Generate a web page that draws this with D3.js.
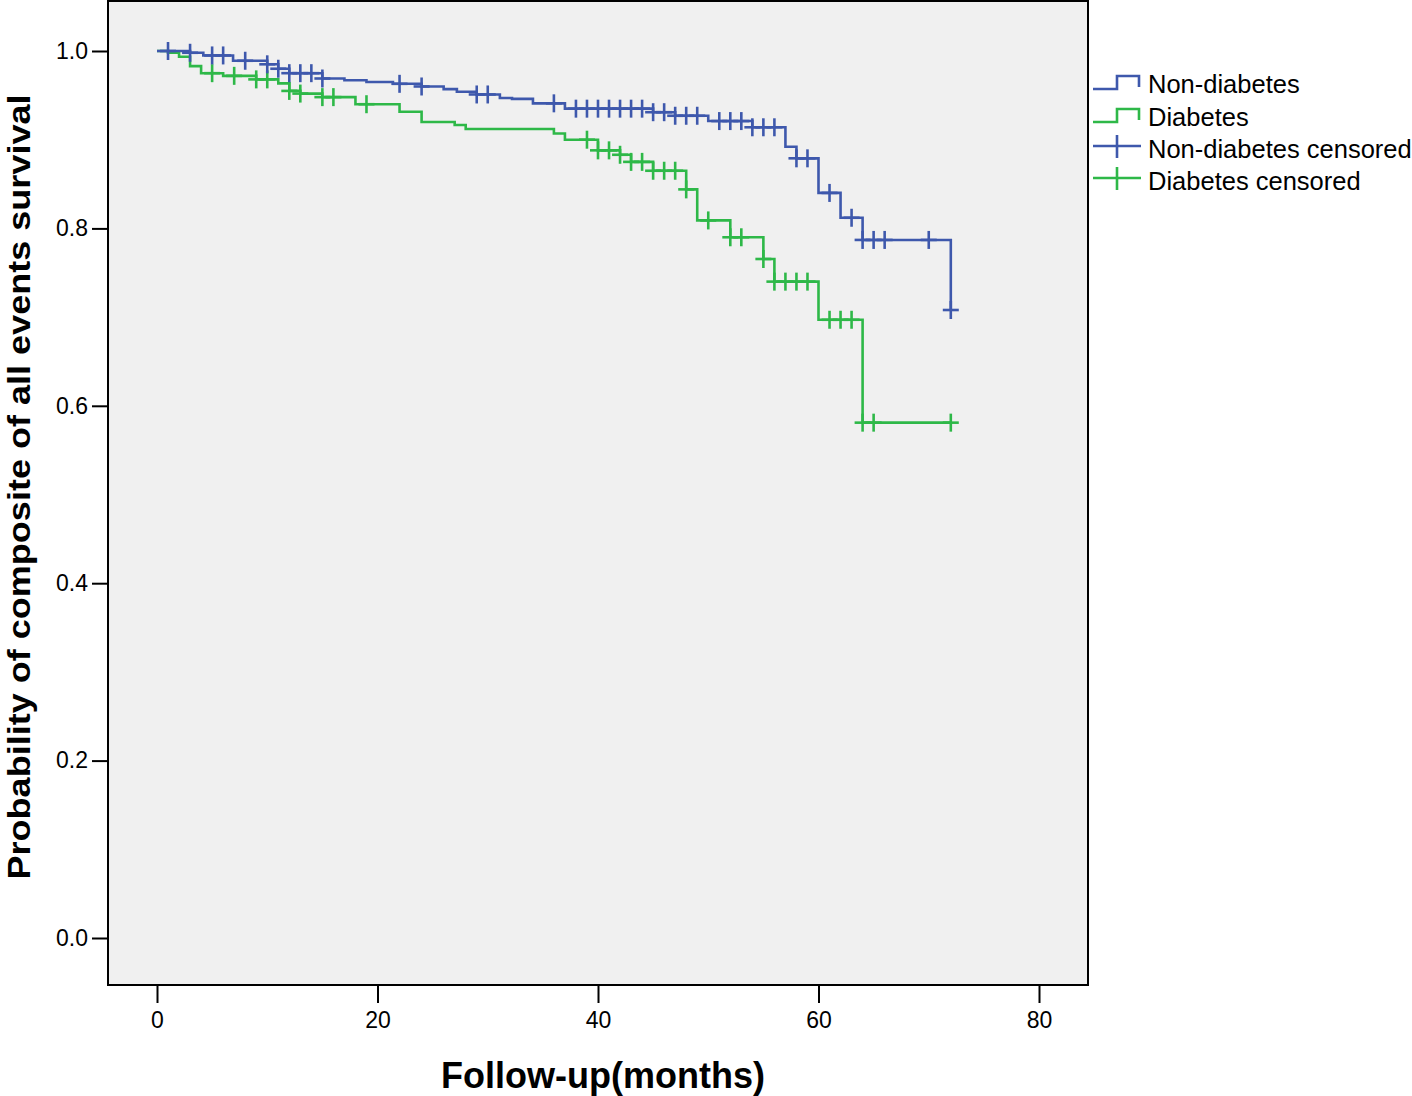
<!DOCTYPE html>
<html>
<head>
<meta charset="utf-8">
<script src="https://cdn.jsdelivr.net/npm/d3@7"></script>
<style>
  html, body { margin: 0; padding: 0; background: #ffffff; }
  svg { display: block; }
  text { font-family: "Liberation Sans", Arial, Helvetica, sans-serif; }
</style>
</head>
<body>
<svg id="chart" width="1412" height="1096"></svg>
<script>
// ---------- data ----------
const seriesNames = ["Non-diabetes", "Diabetes"];
const legendLabels = ["Non-diabetes", "Diabetes", "Non-diabetes censored", "Diabetes censored"];

// Non-diabetes: event times (months) and survival after each step
const nonDiabTimes = [0, 3, 4.2, 6.9, 10, 11, 12, 15, 17, 19, 21.4, 24, 26, 27.2, 29, 31.1, 32.2, 34.1, 37, 45, 47, 50, 54, 57, 58, 60, 62, 64, 72];
const nonDiabSurv  = [1.0, 0.998, 0.995, 0.989, 0.985, 0.980, 0.975, 0.969, 0.967, 0.965, 0.963, 0.960, 0.957, 0.954, 0.951, 0.947, 0.946, 0.941, 0.935, 0.931, 0.927, 0.921, 0.914, 0.892, 0.879, 0.840, 0.812, 0.787, 0.708];
const nonDiabCensored = [1, 3, 5, 6, 8, 10, 11, 12, 13, 14, 15, 22, 24, 29, 30, 36, 38, 39, 40, 41, 42, 43, 44, 45, 46, 47, 48, 49, 51, 52, 53, 54, 55, 56, 58, 59, 61, 63, 64, 65, 66, 70, 72];

// Diabetes
const diabTimes = [0, 1, 2, 3, 4, 6, 9, 11, 12, 13, 15, 18, 22, 24, 27, 28, 36, 37, 40, 42, 43, 45, 48, 49, 52, 55, 56, 60, 64];
const diabSurv  = [1.0, 0.998, 0.9935, 0.983, 0.975, 0.972, 0.968, 0.9635, 0.955, 0.952, 0.948, 0.940, 0.9315, 0.920, 0.9166, 0.912, 0.907, 0.900, 0.888, 0.883, 0.875, 0.865, 0.844, 0.809, 0.790, 0.7655, 0.740, 0.697, 0.581];
const diabCensored = [5, 7, 9, 10, 12, 13, 15, 16, 19, 39, 40, 41, 42, 43, 44, 45, 46, 47, 48, 50, 52, 53, 55, 56, 57, 58, 59, 61, 62, 63, 64, 65, 72];

const followUpEnd = 72;
const xTicks = [0, 20, 40, 60, 80];
const yTicks = [0.0, 0.2, 0.4, 0.6, 0.8, 1.0];
const colors = ["#3e58ac", "#2eb848"];

// ---------- layout ----------
const svg = d3.select("#chart");
const plot = { left: 108, top: 1, right: 1088, bottom: 985 };

const x = d3.scaleLinear().domain([0, 80]).range([157, 1039]);
const y = d3.scaleLinear().domain([0, 1]).range([938, 51]);

// plot background
svg.append("rect")
  .attr("x", plot.left).attr("y", plot.top)
  .attr("width", plot.right - plot.left).attr("height", plot.bottom - plot.top)
  .attr("fill", "#f0f0f0").attr("stroke", "#000").attr("stroke-width", 2);

// axes
const yAxis = d3.axisLeft(y).tickValues(yTicks).tickFormat(d3.format(".1f")).tickSize(16).tickPadding(4);
const gy = svg.append("g").attr("transform", `translate(${plot.left},0)`).call(yAxis);
gy.select(".domain").remove();
gy.selectAll(".tick line").attr("stroke", "#000").attr("stroke-width", 2);
gy.selectAll(".tick text").attr("font-size", 23).attr("fill", "#000")
  .attr("font-family", "'Liberation Sans', Arial, sans-serif");

const xAxis = d3.axisBottom(x).tickValues(xTicks).tickFormat(d3.format("d")).tickSize(17).tickPadding(9);
const gx = svg.append("g").attr("transform", `translate(0,${plot.bottom + 1})`).call(xAxis);
gx.select(".domain").remove();
gx.selectAll(".tick line").attr("stroke", "#000").attr("stroke-width", 2);
gx.selectAll(".tick text").attr("font-size", 23).attr("fill", "#000")
  .attr("font-family", "'Liberation Sans', Arial, sans-serif");

// axis titles
svg.append("text")
  .attr("x", 603).attr("y", 1088)
  .attr("text-anchor", "middle")
  .attr("font-size", 36).attr("font-weight", "bold")
  .attr("textLength", 324).attr("lengthAdjust", "spacingAndGlyphs")
  .text("Follow-up(months)");

svg.append("text")
  .attr("transform", "translate(30,487) rotate(-90)")
  .attr("text-anchor", "middle")
  .attr("font-size", 31).attr("font-weight", "bold")
  .attr("textLength", 785).attr("lengthAdjust", "spacingAndGlyphs")
  .text("Probability of composite of all events survival");

// ---------- curves ----------
function survAt(times, surv, t) {
  let s = surv[0];
  for (let i = 0; i < times.length; i++) { if (times[i] <= t) s = surv[i]; }
  return s;
}

const groups = [
  { times: nonDiabTimes, surv: nonDiabSurv, cens: nonDiabCensored, color: colors[0] },
  { times: diabTimes, surv: diabSurv, cens: diabCensored, color: colors[1] }
];

const line = d3.line().x(d => x(d[0])).y(d => y(d[1])).curve(d3.curveStepAfter);

// draw diabetes first, non-diabetes on top
[groups[1], groups[0]].forEach(g => {
  const pts = g.times.map((t, i) => [t, g.surv[i]]);
  pts.push([followUpEnd, g.surv[g.surv.length - 1]]);
  svg.append("path").datum(pts)
    .attr("d", line)
    .attr("fill", "none").attr("stroke", g.color).attr("stroke-width", 2.6);

  const cg = svg.append("g");
  g.cens.forEach(t => {
    const cx = x(t), cy = y(survAt(g.times, g.surv, t));
    cg.append("line").attr("x1", cx - 8).attr("x2", cx + 8).attr("y1", cy).attr("y2", cy)
      .attr("stroke", g.color).attr("stroke-width", 2.6);
    cg.append("line").attr("x1", cx).attr("x2", cx).attr("y1", cy - 9).attr("y2", cy + 9)
      .attr("stroke", g.color).attr("stroke-width", 2.6);
  });
});

// ---------- legend ----------
const lg = svg.append("g");
const legendRows = [84, 117, 149, 181];
legendLabels.forEach((lab, i) => {
  const cy = legendRows[i];
  const col = colors[i % 2];
  if (i < 2) {
    lg.append("path")
      .attr("d", `M1093,${cy + 5}H1117V${cy - 8}H1139V${cy + 3}`)
      .attr("fill", "none").attr("stroke", col).attr("stroke-width", 2.6);
  } else {
    lg.append("line").attr("x1", 1093).attr("x2", 1141).attr("y1", cy - 3).attr("y2", cy - 3)
      .attr("stroke", col).attr("stroke-width", 2.6);
    lg.append("line").attr("x1", 1117).attr("x2", 1117).attr("y1", cy - 14).attr("y2", cy + 9)
      .attr("stroke", col).attr("stroke-width", 2.6);
  }
  lg.append("text")
    .attr("x", 1148).attr("y", cy + 9)
    .attr("font-size", 25.5).attr("fill", "#000")
    .text(lab);
});
</script>
</body>
</html>
